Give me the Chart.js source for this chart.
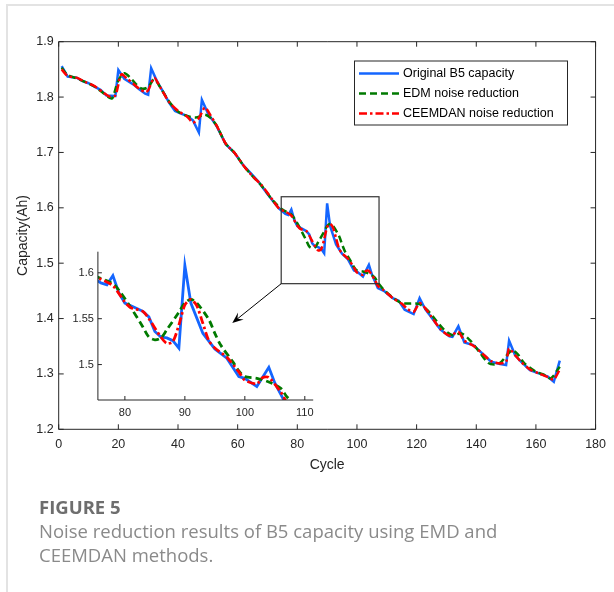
<!DOCTYPE html>
<html>
<head>
<meta charset="utf-8">
<script src="https://cdn.jsdelivr.net/npm/chart.js@4.4.1/dist/chart.umd.min.js"></script>
<style>
  html, body { margin: 0; padding: 0; background: #fff; }
  #wrap { position: relative; width: 614px; height: 592px; overflow: hidden; }
  #frame { position: absolute; left: 6px; top: 4px; width: 700px; height: 700px;
           border-left: 2px solid #e3e3e3; border-top: 2px solid #e3e3e3; }
  canvas { position: absolute; left: 0; top: 0; }
  .cap { position: absolute; left: 39px; font-family: "Open Sans", sans-serif; font-size: 18.5px; line-height: 24px; white-space: nowrap; }
  #fig { top: 495px; font-weight: 700; color: #6e6e6e; }
  #txt { top: 519px; color: #8a8a8a; }
</style>
</head>
<body>
<div id="wrap">
  <div id="frame"></div>
  <canvas id="main" width="614" height="592" style="width:614px;height:592px"></canvas>
  <canvas id="inset" width="614" height="592" style="width:614px;height:592px"></canvas>
  <div class="cap" id="fig">FIGURE 5</div>
  <div class="cap" id="txt">Noise reduction results of B5 capacity using EMD and<br>CEEMDAN methods.</div>
</div>
<script>
const origCycles = [1, 3, 6, 8, 10, 12, 14, 16, 19, 20, 22, 25, 27, 29, 30, 31, 33, 35, 37, 39, 41, 43, 45, 47, 48, 50, 53, 56, 59, 62, 65, 67, 69, 70, 72, 74, 76, 77, 78, 79, 80, 82, 83, 84, 85, 86, 87, 88, 89, 90, 91, 93, 95, 97, 99, 100, 102, 104, 105, 107, 109, 112, 114, 116, 119, 121, 123, 125, 128, 131, 132, 134, 136, 139, 142, 145, 148, 150, 151, 153, 155, 158, 161, 164, 166, 168];
const origCap = [1.856, 1.837, 1.835, 1.829, 1.825, 1.819, 1.813, 1.803, 1.802, 1.849, 1.833, 1.823, 1.814, 1.806, 1.804, 1.852, 1.828, 1.810, 1.790, 1.775, 1.770, 1.766, 1.758, 1.736, 1.795, 1.771, 1.747, 1.715, 1.699, 1.676, 1.659, 1.647, 1.632, 1.625, 1.611, 1.598, 1.589, 1.587, 1.597, 1.578, 1.567, 1.561, 1.558, 1.552, 1.536, 1.530, 1.529, 1.526, 1.518, 1.608, 1.567, 1.534, 1.517, 1.507, 1.487, 1.485, 1.476, 1.497, 1.480, 1.455, 1.450, 1.437, 1.432, 1.416, 1.408, 1.437, 1.416, 1.402, 1.380, 1.368, 1.367, 1.386, 1.357, 1.352, 1.337, 1.322, 1.318, 1.316, 1.360, 1.334, 1.322, 1.307, 1.301, 1.295, 1.286, 1.324];

// EMD noise reduction
const emdCycles = [1, 3, 6, 9, 12, 15, 17, 18, 20, 22, 24, 26, 28, 30, 32, 34, 37, 40, 43, 46, 49, 51, 53, 56, 59, 62, 65, 68, 72, 75, 78, 79, 81, 83, 84, 85, 86, 87, 89, 90, 91, 92, 94, 95, 96, 98, 99, 100, 102, 104, 106, 107, 109, 112, 115, 118, 121, 124, 126, 129, 132, 135, 138, 141, 144, 146, 148, 150, 152, 154, 156, 160, 163, 165, 168];
const emdCap = [1.853, 1.840, 1.834, 1.827, 1.819, 1.807, 1.799, 1.798, 1.830, 1.843, 1.835, 1.823, 1.815, 1.818, 1.832, 1.818, 1.792, 1.774, 1.766, 1.763, 1.768, 1.762, 1.748, 1.716, 1.699, 1.676, 1.657, 1.640, 1.612, 1.597, 1.588, 1.581, 1.562, 1.541, 1.530, 1.527, 1.529, 1.538, 1.557, 1.567, 1.571, 1.567, 1.549, 1.534, 1.521, 1.503, 1.493, 1.487, 1.485, 1.481, 1.474, 1.465, 1.452, 1.438, 1.428, 1.427, 1.426, 1.413, 1.400, 1.381, 1.370, 1.373, 1.360, 1.340, 1.320, 1.317, 1.320, 1.332, 1.343, 1.335, 1.320, 1.304, 1.298, 1.292, 1.313];

// CEEMDAN noise reduction
const ceeCycles = [1, 3, 6, 9, 12, 15, 17, 19, 21, 23, 25, 27, 29, 30, 32, 34, 37, 40, 43, 45, 47, 49, 51, 53, 56, 59, 62, 65, 68, 72, 74, 76, 78, 80, 81, 83, 84, 86, 87, 88, 89, 90, 91, 92, 93, 94, 95, 97, 99, 100, 102, 103, 104, 106, 107, 109, 112, 115, 117, 119, 121, 123, 125, 128, 131, 134, 136, 139, 142, 145, 148, 150, 151, 153, 155, 158, 161, 164, 166, 168];
const ceeCap = [1.850, 1.838, 1.835, 1.827, 1.820, 1.808, 1.801, 1.803, 1.841, 1.833, 1.824, 1.815, 1.809, 1.812, 1.835, 1.818, 1.791, 1.775, 1.765, 1.754, 1.762, 1.781, 1.766, 1.748, 1.716, 1.699, 1.676, 1.657, 1.641, 1.612, 1.598, 1.593, 1.586, 1.568, 1.562, 1.558, 1.550, 1.530, 1.523, 1.525, 1.543, 1.565, 1.571, 1.564, 1.545, 1.526, 1.518, 1.508, 1.492, 1.483, 1.479, 1.486, 1.486, 1.470, 1.459, 1.451, 1.437, 1.427, 1.417, 1.412, 1.428, 1.418, 1.403, 1.381, 1.369, 1.376, 1.360, 1.351, 1.337, 1.323, 1.319, 1.322, 1.346, 1.334, 1.322, 1.308, 1.301, 1.294, 1.290, 1.308];

const seriesLabels = ['Original B5 capacity', 'EDM noise reduction', 'CEEMDAN noise reduction'];

// tick labels
const xTicks = [0, 20, 40, 60, 80, 100, 120, 140, 160, 180];
const yTicks = [1.2, 1.3, 1.4, 1.5, 1.6, 1.7, 1.8, 1.9];
const insetXTicks = [80, 90, 100, 110];
const insetYTicks = [1.5, 1.55, 1.6];

// zoomed region marked on the main plot, and where the arrow points
const zoomBox = { x0: 74.6, x1: 107.4, y0: 1.463, y1: 1.62 };
const arrowTip = { x: 58.2, y: 1.392 };

Chart.defaults.font.family = "'Liberation Sans', Arial, sans-serif";
Chart.defaults.color = '#262626';

const pts = (xs, ys) => xs.map((x, i) => ({ x: x, y: ys[i] }));

function makeDatasets(w) {
  return [
    { label: seriesLabels[0], data: pts(origCycles, origCap), borderColor: '#1466ff', borderWidth: w,
      pointRadius: 0, tension: 0, order: 3 },
    { label: seriesLabels[1], data: pts(emdCycles, emdCap), borderColor: '#007a00', borderWidth: w,
      borderDash: [7, 4], pointRadius: 0, tension: 0.3, order: 2 },
    { label: seriesLabels[2], data: pts(ceeCycles, ceeCap), borderColor: '#ff0000', borderWidth: w,
      borderDash: [8, 3, 2.5, 3], pointRadius: 0, tension: 0.25, order: 1 }
  ];
}

function drawAxesLines(chart, box, tl) {
  const { ctx, chartArea: a, scales } = chart;
  ctx.save();
  ctx.strokeStyle = '#262626';
  ctx.lineWidth = 1;
  ctx.beginPath();
  if (box) {
    ctx.rect(a.left, a.top, a.right - a.left, a.bottom - a.top);
  } else {
    ctx.moveTo(a.left, a.top);
    ctx.lineTo(a.left, a.bottom);
    ctx.lineTo(a.right, a.bottom);
  }
  scales.x.ticks.forEach(t => {
    const px = scales.x.getPixelForValue(t.value);
    ctx.moveTo(px, a.bottom); ctx.lineTo(px, a.bottom - tl);
    if (box) { ctx.moveTo(px, a.top); ctx.lineTo(px, a.top + tl); }
  });
  scales.y.ticks.forEach(t => {
    const py = scales.y.getPixelForValue(t.value);
    ctx.moveTo(a.left, py); ctx.lineTo(a.left + tl, py);
    if (box) { ctx.moveTo(a.right, py); ctx.lineTo(a.right - tl, py); }
  });
  ctx.stroke();
  ctx.restore();
}

const mainDecor = {
  id: 'mainDecor',
  afterDraw(chart) {
    const { ctx, scales: { x, y } } = chart;
    drawAxesLines(chart, true, 5);

    // zoom rectangle
    const rx0 = x.getPixelForValue(zoomBox.x0), rx1 = x.getPixelForValue(zoomBox.x1);
    const ry0 = y.getPixelForValue(zoomBox.y0), ry1 = y.getPixelForValue(zoomBox.y1);
    ctx.save();
    ctx.strokeStyle = '#333';
    ctx.lineWidth = 1.2;
    ctx.strokeRect(rx0, ry1, rx1 - rx0, ry0 - ry1);

    // arrow
    const tx = x.getPixelForValue(arrowTip.x), ty = y.getPixelForValue(arrowTip.y);
    const ang = Math.atan2(ty - ry0, tx - rx0);
    const L = 11, W = 4.5;
    ctx.strokeStyle = '#000';
    ctx.lineWidth = 1;
    ctx.beginPath();
    ctx.moveTo(rx0, ry0);
    ctx.lineTo(tx - Math.cos(ang) * 6, ty - Math.sin(ang) * 6);
    ctx.stroke();
    const cx = Math.cos(ang), sx = Math.sin(ang);
    ctx.fillStyle = '#000';
    ctx.beginPath();
    ctx.moveTo(tx, ty);
    ctx.lineTo(tx - L * cx - W * sx, ty - L * sx + W * cx);
    ctx.lineTo(tx - 0.6 * L * cx, ty - 0.6 * L * sx);
    ctx.lineTo(tx - L * cx + W * sx, ty - L * sx - W * cx);
    ctx.closePath();
    ctx.fill();

    // legend
    const lg = { left: 354.5, top: 61, w: 213, h: 64, row0: 73.5, gap: 20, l0: 359, l1: 399, tx: 403 };
    ctx.fillStyle = '#fff';
    ctx.fillRect(lg.left, lg.top, lg.w, lg.h);
    ctx.strokeStyle = '#262626';
    ctx.lineWidth = 1;
    ctx.strokeRect(lg.left, lg.top, lg.w, lg.h);
    ctx.font = "12.5px 'Liberation Sans', Arial, sans-serif";
    ctx.textBaseline = 'middle';
    chart.data.datasets.forEach((ds, i) => {
      const yy = lg.row0 + i * lg.gap;
      ctx.save();
      ctx.strokeStyle = ds.borderColor;
      ctx.lineWidth = ds.borderWidth;
      ctx.setLineDash(ds.borderDash || []);
      ctx.beginPath();
      ctx.moveTo(lg.l0, yy); ctx.lineTo(lg.l1, yy);
      ctx.stroke();
      ctx.restore();
      ctx.fillStyle = '#000';
      ctx.fillText(ds.label, lg.tx, yy + 0.5);
    });
    ctx.restore();
  }
};

const insetDecor = {
  id: 'insetDecor',
  afterDraw(chart) { drawAxesLines(chart, false, 4); }
};

new Chart(document.getElementById('main'), {
  type: 'line',
  data: { datasets: makeDatasets(2.5) },
  options: {
    responsive: false, animation: false, events: [],
    layout: { padding: { left: 15, top: 41.7, right: 15, bottom: 118.7 } },
    plugins: { legend: { display: false }, tooltip: { enabled: false } },
    scales: {
      x: {
        type: 'linear', min: 0, max: 180,
        afterBuildTicks: s => { s.ticks = xTicks.map(v => ({ value: v })); },
        afterFit: s => { s.height = 44; },
        grid: { display: false, drawTicks: false }, border: { display: false },
        ticks: { font: { size: 12.5 }, padding: 8, maxRotation: 0, autoSkip: false },
        title: { display: true, text: 'Cycle', font: { size: 14 }, padding: 0 }
      },
      y: {
        type: 'linear', min: 1.2, max: 1.9,
        afterBuildTicks: s => { s.ticks = yTicks.map(v => ({ value: v })); },
        afterFit: s => { s.width = 43.7; },
        grid: { display: false, drawTicks: false }, border: { display: false },
        ticks: { font: { size: 12.5 }, padding: 5, callback: v => Number(v).toFixed(1) },
        title: { display: true, text: 'Capacity(Ah)', font: { size: 14 }, padding: 0 }
      }
    }
  },
  plugins: [mainDecor]
});

new Chart(document.getElementById('inset'), {
  type: 'line',
  data: { datasets: makeDatasets(2.8) },
  options: {
    responsive: false, animation: false, events: [],
    layout: { padding: { left: 50, top: 251.7, right: 300.8, bottom: 162 } },
    plugins: { legend: { display: false }, tooltip: { enabled: false } },
    scales: {
      x: {
        type: 'linear', min: 75.5, max: 111.4,
        afterBuildTicks: s => { s.ticks = insetXTicks.map(v => ({ value: v })); },
        afterFit: s => { s.height = 30; },
        grid: { display: false, drawTicks: false }, border: { display: false },
        ticks: { font: { size: 11 }, padding: 6, maxRotation: 0, autoSkip: false }
      },
      y: {
        type: 'linear', min: 1.4614, max: 1.623,
        afterBuildTicks: s => { s.ticks = insetYTicks.map(v => ({ value: v })); },
        afterFit: s => { s.width = 47.9; },
        grid: { display: false, drawTicks: false }, border: { display: false },
        ticks: { font: { size: 11 }, padding: 4, callback: v => String(Number(Number(v).toFixed(2))) }
      }
    }
  },
  plugins: [insetDecor]
});
</script>
</body>
</html>
